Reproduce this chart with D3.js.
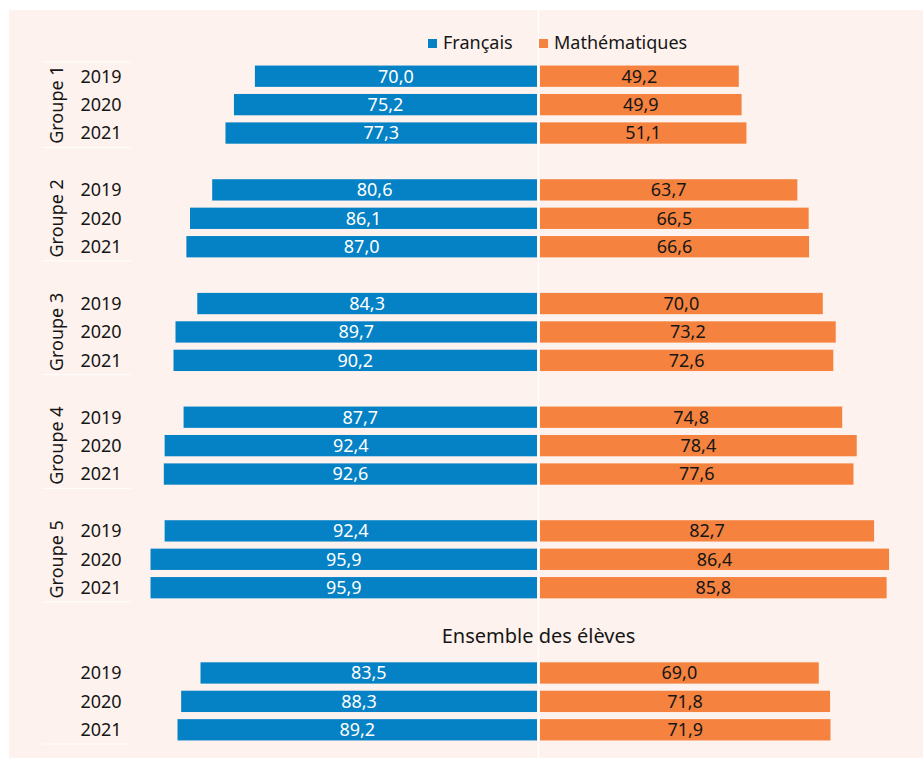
<!DOCTYPE html>
<html>
<head>
<meta charset="utf-8">
<script src="https://cdn.jsdelivr.net/npm/d3@7"></script>
<style>
  body { margin: 0; background: #fff; }
  svg text { font-family: "Noto Sans", sans-serif; fill: #161616; }
</style>
</head>
<body>
<div id="chart"></div>
<script>
///////////////////
// CHART VALUES  //
///////////////////

var groups = ['Groupe 1', 'Groupe 2', 'Groupe 3', 'Groupe 4', 'Groupe 5'];
var years = ['2019', '2020', '2021'];

// one entry per year, per group
var francais = [
    [70.0, 75.2, 77.3],
    [80.6, 86.1, 87.0],
    [84.3, 89.7, 90.2],
    [87.7, 92.4, 92.6],
    [92.4, 95.9, 95.9]
];
var maths = [
    [49.2, 49.9, 51.1],
    [63.7, 66.5, 66.6],
    [70.0, 73.2, 72.6],
    [74.8, 78.4, 77.6],
    [82.7, 86.4, 85.8]
];

var ensembleLabel = 'Ensemble des élèves';
var ensembleFrancais = [83.5, 88.3, 89.2];
var ensembleMaths = [69.0, 71.8, 71.9];

var seriesNames = ['Français', 'Mathématiques'];
var seriesColors = ['#0582c5', '#f5833f'];

/////////////////
// DIMENSIONS  //
/////////////////

var w = 923, h = 758;
var center = 538.5;

var svg = d3.select('#chart')
    .append('svg')
    .attr('width', w)
    .attr('height', h);

// background panel
svg.append('rect')
    .attr('x', 9)
    .attr('y', 10)
    .attr('width', w - 9)
    .attr('height', h - 10)
    .attr('fill', '#fdf2ed');

///////////////
// ROW DATA  //
///////////////

var rows = [];   // bars
var keys = [];   // band domain, gap rows included

groups.forEach(function(g, gi) {
    if (gi > 0) keys.push('gap' + gi);
    years.forEach(function(y, yi) {
        var k = g + '|' + y;
        keys.push(k);
        rows.push({ key: k, group: g, year: y, fr: francais[gi][yi], ma: maths[gi][yi] });
    });
});
keys.push('gapE1', 'gapE2');
years.forEach(function(y, yi) {
    var k = 'E|' + y;
    keys.push(k);
    rows.push({ key: k, group: 'E', year: y, fr: ensembleFrancais[yi], ma: ensembleMaths[yi] });
});

////////////
// SCALES //
////////////

var yScale = d3.scaleBand()
    .domain(keys)
    .range([62, 744])
    .paddingInner(0.25)
    .paddingOuter(0.125);

var step = yScale.step();

var xLeft = d3.scaleLinear()
    .domain([0, 100])
    .range([center - 1.5, center - 1.5 - 403]);

var xRight = d3.scaleLinear()
    .domain([0, 100])
    .range([center + 1.5, center + 1.5 + 404]);

function rowCenter(k) { return yScale(k) + yScale.bandwidth() / 2; }

// centre divider
svg.append('line')
    .attr('x1', center).attr('x2', center)
    .attr('y1', 10).attr('y2', h)
    .attr('stroke', '#fff')
    .attr('stroke-width', 1.5);

//////////
// BARS //
//////////

var bar = svg.selectAll('.row')
    .data(rows)
    .enter()
    .append('g')
    .attr('class', 'row');

bar.append('rect')
    .attr('x', function(d) { return xLeft(d.fr); })
    .attr('y', function(d) { return yScale(d.key); })
    .attr('width', function(d) { return xLeft(0) - xLeft(d.fr); })
    .attr('height', yScale.bandwidth())
    .attr('fill', seriesColors[0]);

bar.append('rect')
    .attr('x', xRight(0))
    .attr('y', function(d) { return yScale(d.key); })
    .attr('width', function(d) { return xRight(d.ma) - xRight(0); })
    .attr('height', yScale.bandwidth())
    .attr('fill', seriesColors[1]);

var fmt = function(v) { return v.toFixed(1).replace('.', ','); };

bar.append('text')
    .attr('x', function(d) { return (xLeft(d.fr) + xLeft(0)) / 2; })
    .attr('y', function(d) { return rowCenter(d.key); })
    .attr('dy', '0.35em')
    .attr('text-anchor', 'middle')
    .style('font-size', '18px')
    .style('fill', '#fff')
    .text(function(d) { return fmt(d.fr); });

bar.append('text')
    .attr('x', function(d) { return (xRight(d.ma) + xRight(0)) / 2; })
    .attr('y', function(d) { return rowCenter(d.key); })
    .attr('dy', '0.35em')
    .attr('text-anchor', 'middle')
    .style('font-size', '18px')
    .text(function(d) { return fmt(d.ma); });

// year labels
bar.append('text')
    .attr('x', 101)
    .attr('y', function(d) { return rowCenter(d.key); })
    .attr('dy', '0.35em')
    .attr('text-anchor', 'middle')
    .style('font-size', '18px')
    .text(function(d) { return d.year; });

////////////////////
// GROUP LABELS   //
////////////////////

groups.forEach(function(g) {
    var cy = rowCenter(g + '|' + years[1]);
    svg.append('text')
        .attr('transform', 'translate(57,' + cy + ') rotate(-90)')
        .attr('dy', '0.35em')
        .attr('text-anchor', 'middle')
        .style('font-size', '18px')
        .text(g);
});

// white separators on the left
var sepY = [yScale(groups[0] + '|' + years[0]) - step * 0.125];
groups.forEach(function(g) {
    sepY.push(yScale(g + '|' + years[2]) + yScale.bandwidth() + step * 0.125);
});
sepY.push(yScale('E|' + years[2]) + yScale.bandwidth() + step * 0.125);

svg.selectAll('.sep')
    .data(sepY)
    .enter()
    .append('line')
    .attr('class', 'sep')
    .attr('x1', 42).attr('x2', 131)
    .attr('y1', function(d) { return d; })
    .attr('y2', function(d) { return d; })
    .attr('stroke', '#fff')
    .attr('stroke-width', 1);

// ensemble title
svg.append('text')
    .attr('x', center)
    .attr('y', (rowCenter('gapE1') + rowCenter('gapE2')) / 2 + 6)
    .attr('dy', '0.35em')
    .attr('text-anchor', 'middle')
    .style('font-size', '20px')
    .text(ensembleLabel);

////////////
// LEGEND //
////////////

var legendX = [428, 539];
var legend = svg.selectAll('.legend')
    .data(seriesNames)
    .enter()
    .append('g')
    .attr('class', 'legend')
    .attr('transform', function(d, i) { return 'translate(' + legendX[i] + ',43)'; });

legend.append('rect')
    .attr('x', 0).attr('y', -4)
    .attr('width', 9).attr('height', 9)
    .attr('fill', function(d, i) { return seriesColors[i]; });

legend.append('text')
    .attr('x', 15)
    .attr('dy', '0.35em')
    .style('font-size', '18px')
    .text(function(d) { return d; });
</script>
</body>
</html>
